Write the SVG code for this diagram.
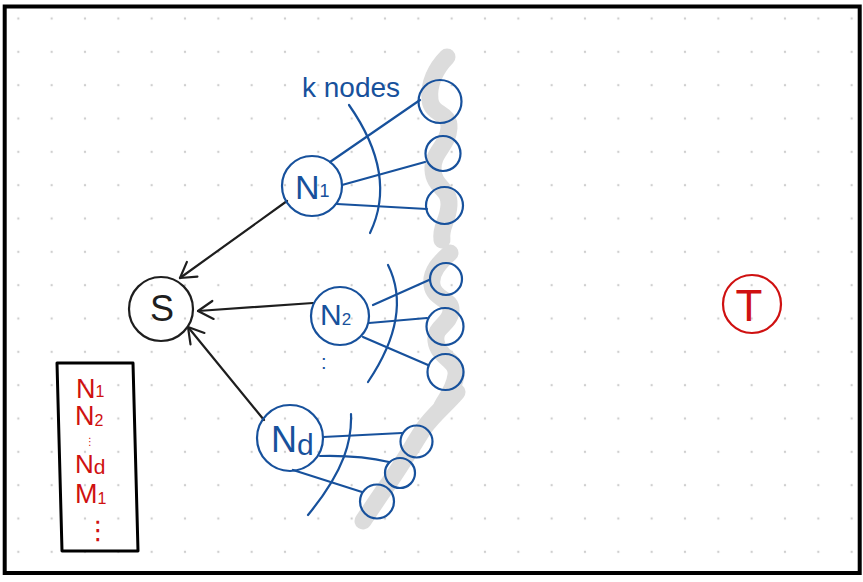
<svg xmlns="http://www.w3.org/2000/svg" width="863" height="582" viewBox="0 0 863 582">
<defs>
<pattern id="grid" patternUnits="userSpaceOnUse" x="1.67" y="1.83" width="33.333" height="33.333">
<circle cx="16.667" cy="16.667" r="1.2" fill="#cfcfcf"/>
</pattern>
<marker id="arr" markerUnits="userSpaceOnUse" viewBox="-18 -11 22 22" refX="0" refY="0" markerWidth="22" markerHeight="22" orient="auto">
<path d="M-15,-9 L0,0 L-15,9" fill="none" stroke="#1e1e1e" stroke-width="2.2" stroke-linecap="round" stroke-linejoin="round"/>
</marker>
<style>
.blk{fill:none;stroke:#1e1e1e;stroke-width:2.2;stroke-linecap:round}
.blu{fill:none;stroke:#17519c;stroke-width:2.2;stroke-linecap:round}
.red{fill:none;stroke:#cf1111;stroke-width:2.2}
.hl{fill:none;stroke:#dcdcdc;stroke-width:17;stroke-linecap:round;stroke-linejoin:round}
.t{font-family:"Liberation Sans",Arial,sans-serif}
.tb{fill:#17519c}
.tr{fill:#cf1111}
.tk{fill:#1e1e1e}
</style>
</defs>
<rect x="0" y="0" width="863" height="582" fill="#ffffff"/>
<rect x="4" y="6" width="856" height="568" fill="url(#grid)"/>
<rect x="4.7" y="6.5" width="855" height="566.5" fill="none" stroke="#000" stroke-width="4"/>

<g id="highlights">
<path class="hl" d="M447,57 C436,68 428,84 430,100 C432,116 450,112 449,128 C448,146 432,152 433,170 C434,188 450,188 449,205 C448,222 440,226 442,240"/>
<path class="hl" d="M450,253 C440,262 430,272 432,285 C434,300 452,298 451,311 C450,325 434,326 436,341 C438,358 458,360 456,375 C454,390 446,398 442,406"/>
<path class="hl" d="M457,392 C447,404 434,414 424,428 C411,448 400,468 386,487 C377,500 369,512 363,521"/>
</g>

<g id="connectors">
<line class="blk" x1="287" y1="201" x2="180" y2="278" marker-end="url(#arr)"/>
<line class="blk" x1="313" y1="303" x2="198" y2="311" marker-end="url(#arr)"/>
<line class="blk" x1="264" y1="420" x2="188" y2="327" marker-end="url(#arr)"/>
<line class="blu" x1="330" y1="162" x2="420" y2="100"/>
<line class="blu" x1="342" y1="185" x2="425" y2="162"/>
<line class="blu" x1="337" y1="204" x2="427" y2="209"/>
<line class="blu" x1="373" y1="305" x2="429" y2="280"/>
<line class="blu" x1="369" y1="323" x2="427" y2="318"/>
<line class="blu" x1="363" y1="337" x2="428" y2="365"/>
<line class="blu" x1="323" y1="437" x2="402" y2="433"/>
<path class="blu" d="M320,456 Q360,455 389,462"/>
<line class="blu" x1="293" y1="470" x2="362" y2="492"/>
</g>

<g id="arcs">
<path class="blu" d="M349,105 Q398,175 370,233"/>
<path class="blu" d="M388,265 Q413,315 368,382"/>
<path class="blu" d="M351,414 C352,440 345,470 308,515"/>
</g>

<g id="S">
<circle class="blk" cx="161" cy="309" r="32"/>
<text class="t tk" x="162" y="321" font-size="36" text-anchor="middle">S</text>
</g>
<g id="N1">
<circle class="blu" cx="312" cy="186" r="30"/>
<text class="t tb" x="295" y="199" font-size="34">N<tspan font-size="18" dy="-2">1</tspan></text>
</g>
<g id="N2">
<circle class="blu" cx="340" cy="316" r="29"/>
<text class="t tb" x="320" y="325" font-size="30">N<tspan font-size="17" dy="0">2</tspan></text>
<text class="t tb" x="321" y="369" font-size="20">:</text>
</g>
<g id="Nd">
<circle class="blu" cx="290" cy="438" r="33"/>
<text class="t tb" x="271" y="452" font-size="36">N<tspan font-size="30" dy="3">d</tspan></text>
</g>
<g id="T">
<circle class="red" cx="752" cy="304" r="29"/>
<text class="t tr" x="749" y="321" font-size="44" text-anchor="middle">T</text>
</g>

<g id="knodes-label">
<text class="t tb" x="302" y="97" font-size="28">k nodes</text>
</g>

<g id="k-group1">
<circle class="blu" cx="440" cy="101.5" r="21.5"/>
<circle class="blu" cx="443" cy="153.5" r="17.5"/>
<circle class="blu" cx="444.5" cy="205.5" r="18.5"/>
</g>
<g id="k-group2">
<circle class="blu" cx="446" cy="279" r="16"/>
<circle class="blu" cx="445" cy="326.5" r="18.5"/>
<circle class="blu" cx="445.5" cy="372" r="18"/>
</g>
<g id="k-groupd">
<circle class="blu" cx="416.5" cy="441.5" r="16"/>
<circle class="blu" cx="400" cy="473" r="15"/>
<circle class="blu" cx="377" cy="501.5" r="17"/>
</g>

<g id="legend">
<path d="M57,363 L133,363 L138,551 L62,551 Z" fill="none" stroke="#000" stroke-width="3" stroke-linejoin="round"/>
<text class="t tr" x="76" y="398" font-size="27">N<tspan font-size="16" dy="-1">1</tspan></text>
<text class="t tr" x="75" y="425" font-size="27">N<tspan font-size="16" dy="1">2</tspan></text>
<text class="t tr" x="85" y="445" font-size="10" style="font-family:'DejaVu Sans',sans-serif">⋮</text>
<text class="t tr" x="75" y="473" font-size="26">N<tspan font-size="21" dy="1">d</tspan></text>
<text class="t tr" x="75" y="503" font-size="27">M<tspan font-size="16" dy="1">1</tspan></text>
<text class="t tr" x="85" y="539" font-size="26" style="font-family:'DejaVu Sans',sans-serif">⋮</text>
</g>
</svg>
